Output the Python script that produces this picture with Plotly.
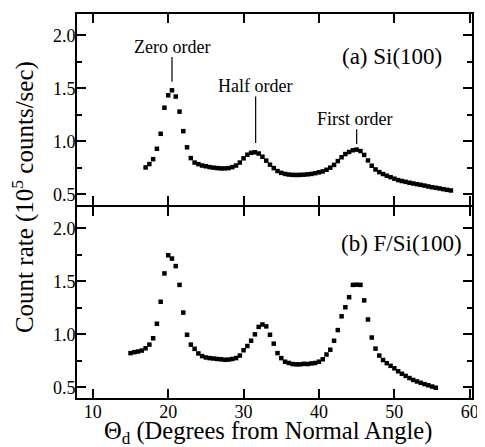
import plotly.graph_objects as go

# Panel (a) Si(100)
theta_a = [17.0, 17.5, 18.0, 18.5, 19.0, 19.5, 20.0, 20.5, 21.0, 21.5,
           22.0, 22.5, 23.0, 23.5, 24.0, 24.5, 25.0, 25.5, 26.0, 26.5,
           27.0, 27.5, 28.0, 28.5, 29.0, 29.5, 30.0, 30.5, 31.0, 31.5,
           32.0, 32.5, 33.0, 33.5, 34.0, 34.5, 35.0, 35.5, 36.0, 36.5,
           37.0, 37.5, 38.0, 38.5, 39.0, 39.5, 40.0, 40.5, 41.0, 41.5,
           42.0, 42.5, 43.0, 43.5, 44.0, 44.5, 45.0, 45.5, 46.0, 46.5,
           47.0, 47.5, 48.0, 48.5, 49.0, 49.5, 50.0, 50.5, 51.0, 51.5,
           52.0, 52.5, 53.0, 53.5, 54.0, 54.5, 55.0, 55.5, 56.0, 56.5,
           57.0, 57.5]
rate_a = [0.754, 0.786, 0.832, 0.930, 1.071, 1.317, 1.434, 1.481, 1.422, 1.280,
          1.096, 0.944, 0.842, 0.800, 0.785, 0.772, 0.765, 0.757, 0.752, 0.748,
          0.745, 0.745, 0.748, 0.757, 0.772, 0.800, 0.840, 0.874, 0.892, 0.897,
          0.885, 0.855, 0.818, 0.780, 0.748, 0.720, 0.703, 0.693, 0.687, 0.684,
          0.683, 0.684, 0.686, 0.689, 0.693, 0.700, 0.708, 0.717, 0.732, 0.752,
          0.778, 0.814, 0.850, 0.880, 0.900, 0.916, 0.922, 0.908, 0.872, 0.820,
          0.770, 0.735, 0.710, 0.692, 0.676, 0.662, 0.648, 0.635, 0.626, 0.618,
          0.610, 0.603, 0.596, 0.590, 0.583, 0.575, 0.568, 0.562, 0.556, 0.549,
          0.543, 0.537]

# Panel (b) F/Si(100)
theta_b = [15.0, 15.5, 16.0, 16.5, 17.0, 17.5, 18.0, 18.5, 19.0, 19.5,
           20.0, 20.5, 21.0, 21.5, 22.0, 22.5, 23.0, 23.5, 24.0, 24.5,
           25.0, 25.5, 26.0, 26.5, 27.0, 27.5, 28.0, 28.5, 29.0, 29.5,
           30.0, 30.5, 31.0, 31.5, 32.0, 32.5, 33.0, 33.5, 34.0, 34.5,
           35.0, 35.5, 36.0, 36.5, 37.0, 37.5, 38.0, 38.5, 39.0, 39.5,
           40.0, 40.5, 41.0, 41.5, 42.0, 42.5, 43.0, 43.5, 44.0, 44.5,
           45.0, 45.5, 46.0, 46.5, 47.0, 47.5, 48.0, 48.5, 49.0, 49.5,
           50.0, 50.5, 51.0, 51.5, 52.0, 52.5, 53.0, 53.5, 54.0, 54.5,
           55.0, 55.5]
rate_b = [0.823, 0.832, 0.838, 0.847, 0.869, 0.903, 0.963, 1.100, 1.307, 1.574,
          1.745, 1.714, 1.643, 1.466, 1.205, 0.996, 0.903, 0.863, 0.820, 0.795,
          0.782, 0.776, 0.772, 0.768, 0.765, 0.760, 0.762, 0.768, 0.776, 0.800,
          0.850, 0.890, 0.940, 1.000, 1.070, 1.093, 1.075, 0.996, 0.912, 0.823,
          0.776, 0.742, 0.730, 0.720, 0.717, 0.717, 0.722, 0.720, 0.726, 0.730,
          0.742, 0.765, 0.810, 0.855, 0.940, 1.040, 1.170, 1.255, 1.350, 1.466,
          1.468, 1.466, 1.320, 1.140, 0.970, 0.865, 0.800, 0.758, 0.728, 0.703,
          0.680, 0.652, 0.628, 0.608, 0.588, 0.570, 0.556, 0.543, 0.531, 0.520,
          0.508, 0.497]

x_ticks = [10, 20, 30, 40, 50, 60]
y_ticks = [0.5, 1.0, 1.5, 2.0]
y_tick_labels = ["0.5", "1.0", "1.5", "2.0"]

FONT = "Liberation Serif, Times New Roman, serif"

fig = go.Figure()
mk = dict(symbol="square", size=4.5, color="black", line=dict(width=0))
fig.add_trace(go.Scatter(x=theta_a, y=rate_a, mode="markers", marker=mk,
                         xaxis="x", yaxis="y", showlegend=False))
fig.add_trace(go.Scatter(x=theta_b, y=rate_b, mode="markers", marker=mk,
                         xaxis="x2", yaxis="y2", showlegend=False))

xcommon = dict(range=[7.9, 60.3], tickvals=x_ticks, ticks="inside", ticklen=9,
               tickwidth=1.5, tickcolor="black", showline=True, linewidth=2,
               linecolor="black", mirror="allticks", showgrid=False, zeroline=False,
               ticklabelstandoff=-4,
               tickfont=dict(family=FONT, size=18, color="black"))
ycommon = dict(range=[0.4, 2.2], tickvals=y_ticks, ticktext=y_tick_labels,
               ticks="inside", ticklen=9, tickwidth=1.5, tickcolor="black",
               showline=True, linewidth=2, linecolor="black", mirror="allticks",
               showgrid=False, zeroline=False, ticklabelstandoff=-4,
               minor=dict(dtick=0.25, tick0=0.25, ticks="inside", ticklen=5,
                          tickwidth=1.5, tickcolor="black", showgrid=False),
               tickfont=dict(family=FONT, size=18, color="black"))

gap = 1.0 / 386
fig.update_layout(
    width=477, height=439,
    margin=dict(l=69, r=13, t=4, b=49),
    paper_bgcolor="white", plot_bgcolor="white",
    font=dict(family=FONT, color="black"),
    xaxis=dict(**xcommon, domain=[0, 1], anchor="y", showticklabels=False),
    yaxis=dict(**ycommon, domain=[0.5 + gap, 1], anchor="x"),
    xaxis2=dict(**xcommon, domain=[0, 1], anchor="y2", showticklabels=True),
    yaxis2=dict(**ycommon, domain=[0, 0.5 - gap], anchor="x2"),
)

ann_font = dict(family=FONT, size=18, color="black")
lab_font = dict(family=FONT, size=23, color="black")
annotations = [
    dict(text="Zero order", x=20.5, y=1.888, xref="x", yref="y", showarrow=False,
         font=ann_font, xanchor="center", yanchor="middle"),
    dict(text="Half order", x=31.5, y=1.525, xref="x", yref="y", showarrow=False,
         font=ann_font, xanchor="center", yanchor="middle"),
    dict(text="First order", x=44.75, y=1.208, xref="x", yref="y", showarrow=False,
         font=ann_font, xanchor="center", yanchor="middle"),
    dict(text="(a) Si(100)", x=56.6, y=1.795, xref="x", yref="y", showarrow=False,
         font=lab_font, xanchor="right", yanchor="middle"),
    dict(text="(b) F/Si(100)", x=59.2, y=1.86, xref="x2", yref="y2", showarrow=False,
         font=lab_font, xanchor="right", yanchor="middle"),
    dict(text="Count rate (10<sup>5</sup> counts/sec)", x=-0.137, y=0.523,
         xref="paper", yref="paper", showarrow=False, textangle=-90,
         font=dict(family=FONT, size=25, color="black"),
         xanchor="center", yanchor="middle"),
    dict(text="Θ<sub>d</sub> (Degrees from Normal Angle)", x=0.4835, y=-0.089,
         xref="paper", yref="paper", showarrow=False,
         font=dict(family=FONT, size=24.5, color="black"),
         xanchor="center", yanchor="middle"),
]
fig.update_layout(annotations=annotations)

lines = [(20.5, 1.795, 1.562), (31.6, 1.422, 0.984), (45.0, 1.115, 0.975)]
for lx, y0, y1 in lines:
    fig.add_shape(type="line", x0=lx, x1=lx, y0=y0, y1=y1, xref="x", yref="y",
                  line=dict(color="black", width=1.2))

fig.write_html("out.html")
